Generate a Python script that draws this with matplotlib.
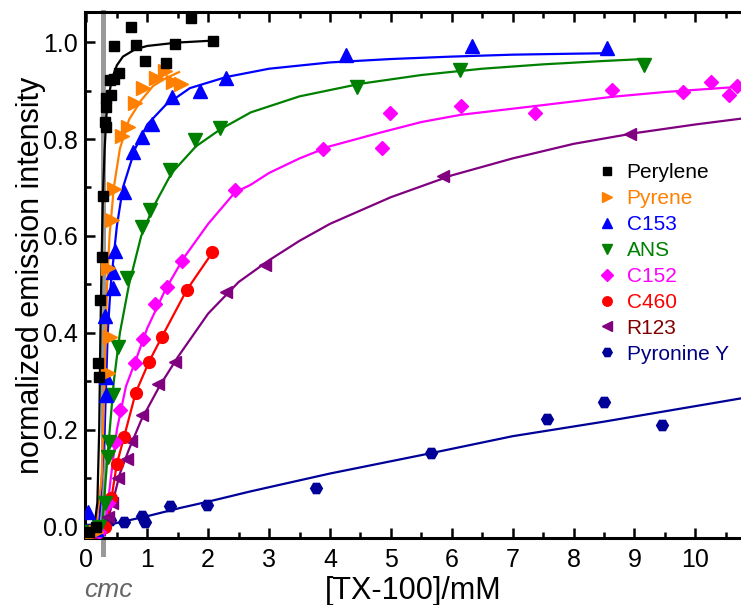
import matplotlib
matplotlib.use("Agg")
import matplotlib.pyplot as plt
from matplotlib.ticker import MultipleLocator

plt.rcParams['font.family'] = ['Liberation Sans', 'DejaVu Sans']

# measured points (TX-100 concentration in mM, normalized intensity)
perylene_x = [0.05, 0.15, 0.19, 0.21, 0.22, 0.25, 0.28, 0.31, 0.33, 0.33, 0.33, 0.41, 0.39,
              0.45, 0.54, 0.45, 0.81, 0.73, 0.97, 1.30, 1.46, 1.72, 2.08]
perylene_y = [-0.01, 0.0, 0.339, 0.31, 0.468, 0.557, 0.682, 0.836, 0.825, 0.867, 0.884, 0.891, 0.922,
              0.923, 0.937, 0.992, 0.994, 1.032, 0.961, 0.956, 0.996, 1.05, 1.002]
perylene_fit_x = [0.0, 0.12, 0.18, 0.21, 0.23, 0.25, 0.27, 0.30, 0.33, 0.37, 0.42, 0.5, 0.6, 0.8, 1.0, 1.5, 2.08]
perylene_fit_y = [-0.01, -0.01, 0.05, 0.2, 0.4, 0.55, 0.68, 0.78, 0.85, 0.89, 0.925, 0.952, 0.97, 0.985, 0.992, 0.999, 1.003]

pyrene_x = [0.05, 0.15, 0.35, 0.39, 0.36, 0.42, 0.45, 0.58, 0.69, 0.80, 0.93, 1.14, 1.29, 1.43, 1.56]
pyrene_y = [-0.015, -0.01, 0.317, 0.392, 0.534, 0.633, 0.697, 0.806, 0.825, 0.874, 0.905, 0.925, 0.941, 0.918, 0.913]
pyrene_fit_x = [0.0, 0.15, 0.25, 0.30, 0.34, 0.38, 0.45, 0.55, 0.7, 0.9, 1.1, 1.3, 1.52]
pyrene_fit_y = [-0.01, -0.01, 0.1, 0.3, 0.5, 0.6, 0.7, 0.78, 0.84, 0.88, 0.91, 0.925, 0.938]

c153_x = [0.02, 0.15, 0.32, 0.32, 0.31, 0.43, 0.44, 0.47, 0.61, 0.77, 0.91, 1.07, 1.40, 1.87, 2.29,
          4.27, 6.33, 8.55]
c153_y = [0.03, -0.005, 0.272, 0.31, 0.434, 0.493, 0.526, 0.568, 0.691, 0.774, 0.805, 0.832, 0.887, 0.90, 0.925,
          0.973, 0.992, 0.987]
c153_fit_x = [0.0, 0.2, 0.3, 0.35, 0.4, 0.5, 0.6, 0.8, 1.0, 1.3, 1.7, 2.3, 3.0, 4.0, 5.0, 6.0, 7.0, 8.0, 8.55]
c153_fit_y = [-0.01, -0.01, 0.2, 0.4, 0.5, 0.62, 0.7, 0.78, 0.83, 0.87, 0.905, 0.928, 0.945, 0.958, 0.965,
              0.97, 0.974, 0.976, 0.977]

ans_x = [0.05, 0.2, 0.3, 0.36, 0.37, 0.44, 0.52, 0.66, 0.92, 1.04, 1.37, 1.78, 2.19, 4.44, 6.13, 9.16]
ans_y = [-0.01, 0.0, 0.05, 0.145, 0.176, 0.272, 0.372, 0.513, 0.619, 0.654, 0.736, 0.798, 0.822, 0.907,
         0.942, 0.953]
ans_fit_x = [0.0, 0.25, 0.35, 0.45, 0.55, 0.7, 0.9, 1.1, 1.4, 1.8, 2.2, 2.7, 3.5, 4.5, 5.5, 6.5, 7.5, 8.5, 9.16]
ans_fit_y = [-0.01, -0.01, 0.15, 0.3, 0.4, 0.5, 0.6, 0.66, 0.73, 0.785, 0.82, 0.855, 0.888, 0.914, 0.932,
             0.945, 0.954, 0.961, 0.965]

c152_x = [0.05, 0.2, 0.35, 0.47, 0.55, 0.80, 0.93, 1.12, 1.32, 1.57, 2.44, 3.89, 4.86, 4.99, 6.15,
          7.37, 8.63, 9.79, 10.26, 10.55, 10.69]
c152_y = [-0.01, -0.01, 0.05, 0.174, 0.24, 0.337, 0.387, 0.46, 0.494, 0.548, 0.695, 0.779, 0.782, 0.854,
          0.869, 0.853, 0.902, 0.896, 0.918, 0.891, 0.91]
c152_fit_x = [0.0, 0.3, 0.4, 0.5, 0.65, 0.8, 1.0, 1.3, 1.6, 2.0, 2.44, 2.69, 3.0, 3.5, 4.0, 4.82, 5.5,
              6.15, 7.37, 8.63, 9.5, 10.75]
c152_fit_y = [-0.01, -0.01, 0.1, 0.2, 0.29, 0.34, 0.41, 0.49, 0.555, 0.625, 0.69, 0.705, 0.73, 0.76, 0.785,
              0.813, 0.835, 0.85, 0.868, 0.887, 0.897, 0.908]

c460_x = [0.1, 0.3, 0.4, 0.50, 0.62, 0.81, 1.03, 1.24, 1.65, 2.07]
c460_y = [-0.01, 0.0, 0.06, 0.13, 0.186, 0.277, 0.341, 0.392, 0.489, 0.566]
c460_fit_x = [0.0, 0.3, 0.4, 0.5, 0.62, 0.81, 1.03, 1.24, 1.65, 2.07]
c460_fit_y = [-0.01, -0.005, 0.05, 0.13, 0.186, 0.277, 0.341, 0.392, 0.489, 0.566]

r123_x = [0.03, 0.1, 0.2, 0.35, 0.42, 0.52, 0.66, 0.74, 0.91, 1.18, 1.45, 2.30, 2.93, 5.86, 8.93]
r123_y = [-0.01, -0.015, -0.005, 0.02, 0.05, 0.10, 0.14, 0.178, 0.231, 0.295, 0.34, 0.485, 0.54, 0.724, 0.81]
r123_fit_x = [0.0, 0.3, 0.45, 0.55, 0.7, 0.9, 1.2, 1.5, 2.0, 2.5, 3.0, 3.5, 4.0, 5.0, 6.0, 7.0, 8.0, 9.0,
              10.0, 10.75]
r123_fit_y = [-0.01, -0.01, 0.06, 0.11, 0.16, 0.22, 0.29, 0.35, 0.44, 0.505, 0.55, 0.59, 0.625, 0.68, 0.725,
              0.76, 0.79, 0.812, 0.83, 0.842]

pyronine_x = [0.05, 0.2, 0.39, 0.61, 0.91, 0.96, 1.38, 1.98, 3.77, 5.66, 7.56, 8.50, 9.45]
pyronine_y = [-0.005, 0.0, 0.014, 0.011, 0.023, 0.011, 0.042, 0.045, 0.08, 0.152, 0.223, 0.258, 0.21]
pyronine_fit_x = [0.0, 0.5, 1.0, 1.54, 2.0, 2.69, 4.0, 5.66, 7.0, 8.5, 10.75]
pyronine_fit_y = [-0.006, 0.008, 0.022, 0.039, 0.052, 0.073, 0.11, 0.152, 0.187, 0.217, 0.265]

cmc = 0.27

# name, points, fit, colour, marker, marker size, legend text colour
series = [
    ("Pyronine Y", pyronine_x, pyronine_y, pyronine_fit_x, pyronine_fit_y, "#000099", "H", 8.5, "#000080"),
    ("R123", r123_x, r123_y, r123_fit_x, r123_fit_y, "#800080", "<", 9, "#800000"),
    ("C460", c460_x, c460_y, c460_fit_x, c460_fit_y, "#FF0000", "o", 8.5, "#FF0000"),
    ("C152", c152_x, c152_y, c152_fit_x, c152_fit_y, "#FF00FF", "D", 7.5, "#FF00FF"),
    ("ANS", ans_x, ans_y, ans_fit_x, ans_fit_y, "#008000", "v", 9.5, "#008000"),
    ("C153", c153_x, c153_y, c153_fit_x, c153_fit_y, "#0000FF", "^", 9.5, "#0000FF"),
    ("Pyrene", pyrene_x, pyrene_y, pyrene_fit_x, pyrene_fit_y, "#FF8000", ">", 9.5, "#FF8000"),
    ("Perylene", perylene_x, perylene_y, perylene_fit_x, perylene_fit_y, "#000000", "s", 7.5, "#000000"),
]

fig = plt.figure(figsize=(7.41, 6.05), dpi=100)
ax = fig.add_axes([85 / 741, 1 - 538 / 605, 656 / 741, 526 / 605])

ax.axvline(cmc, ymin=-0.03, ymax=1, color="#999999", lw=3.6, clip_on=False, zorder=1)

handles = {}
for name, x, y, fx, fy, col, mk, ms, tcol in series:
    ax.plot(fx, fy, color=col, lw=1.6, zorder=2)
    h, = ax.plot(x, y, ls="none", marker=mk, ms=ms, color=col, mec=col, zorder=3)
    handles[name] = (h, tcol)

ax.set_xlim(-0.023, 10.75)
ax.set_ylim(-0.023, 1.062)

ax.xaxis.set_major_locator(MultipleLocator(1))
ax.xaxis.set_minor_locator(MultipleLocator(0.5))
ax.yaxis.set_major_locator(MultipleLocator(0.2))
ax.yaxis.set_minor_locator(MultipleLocator(0.1))
ax.set_xticks(range(0, 11))
ax.set_yticks([0.0, 0.2, 0.4, 0.6, 0.8, 1.0])
ax.set_yticklabels(["0.0", "0.2", "0.4", "0.6", "0.8", "1.0"])

ax.tick_params(which="both", direction="in", top=True, right=False, width=1.8, labelsize=18)
ax.tick_params(which="major", length=7, pad=5)
ax.tick_params(axis="x", which="major", pad=7)
ax.tick_params(which="minor", length=4)
for side in ["left", "bottom", "top"]:
    ax.spines[side].set_linewidth(2.2)
ax.spines["right"].set_visible(False)

ax.set_xlabel("[TX-100]/mM", fontsize=22, labelpad=3)
ax.set_ylabel("normalized emission intensity", fontsize=22, labelpad=-2)

fig.text(108 / 741, 1 - 590 / 605, "cmc", style="italic", color="#666666", fontsize=19,
         ha="center", va="center")

order = ["Perylene", "Pyrene", "C153", "ANS", "C152", "C460", "R123", "Pyronine Y"]
leg = ax.legend([handles[n][0] for n in order], order, loc="upper left",
                bbox_to_anchor=(588 / 741, 1 - 153 / 605), bbox_transform=fig.transFigure,
                frameon=False, fontsize=15, handlelength=0.8, handletextpad=0.55,
                labelspacing=0.33, markerscale=0.8, borderpad=0)
for txt, n in zip(leg.get_texts(), order):
    txt.set_color(handles[n][1])

fig.savefig("out.png", dpi=100)
